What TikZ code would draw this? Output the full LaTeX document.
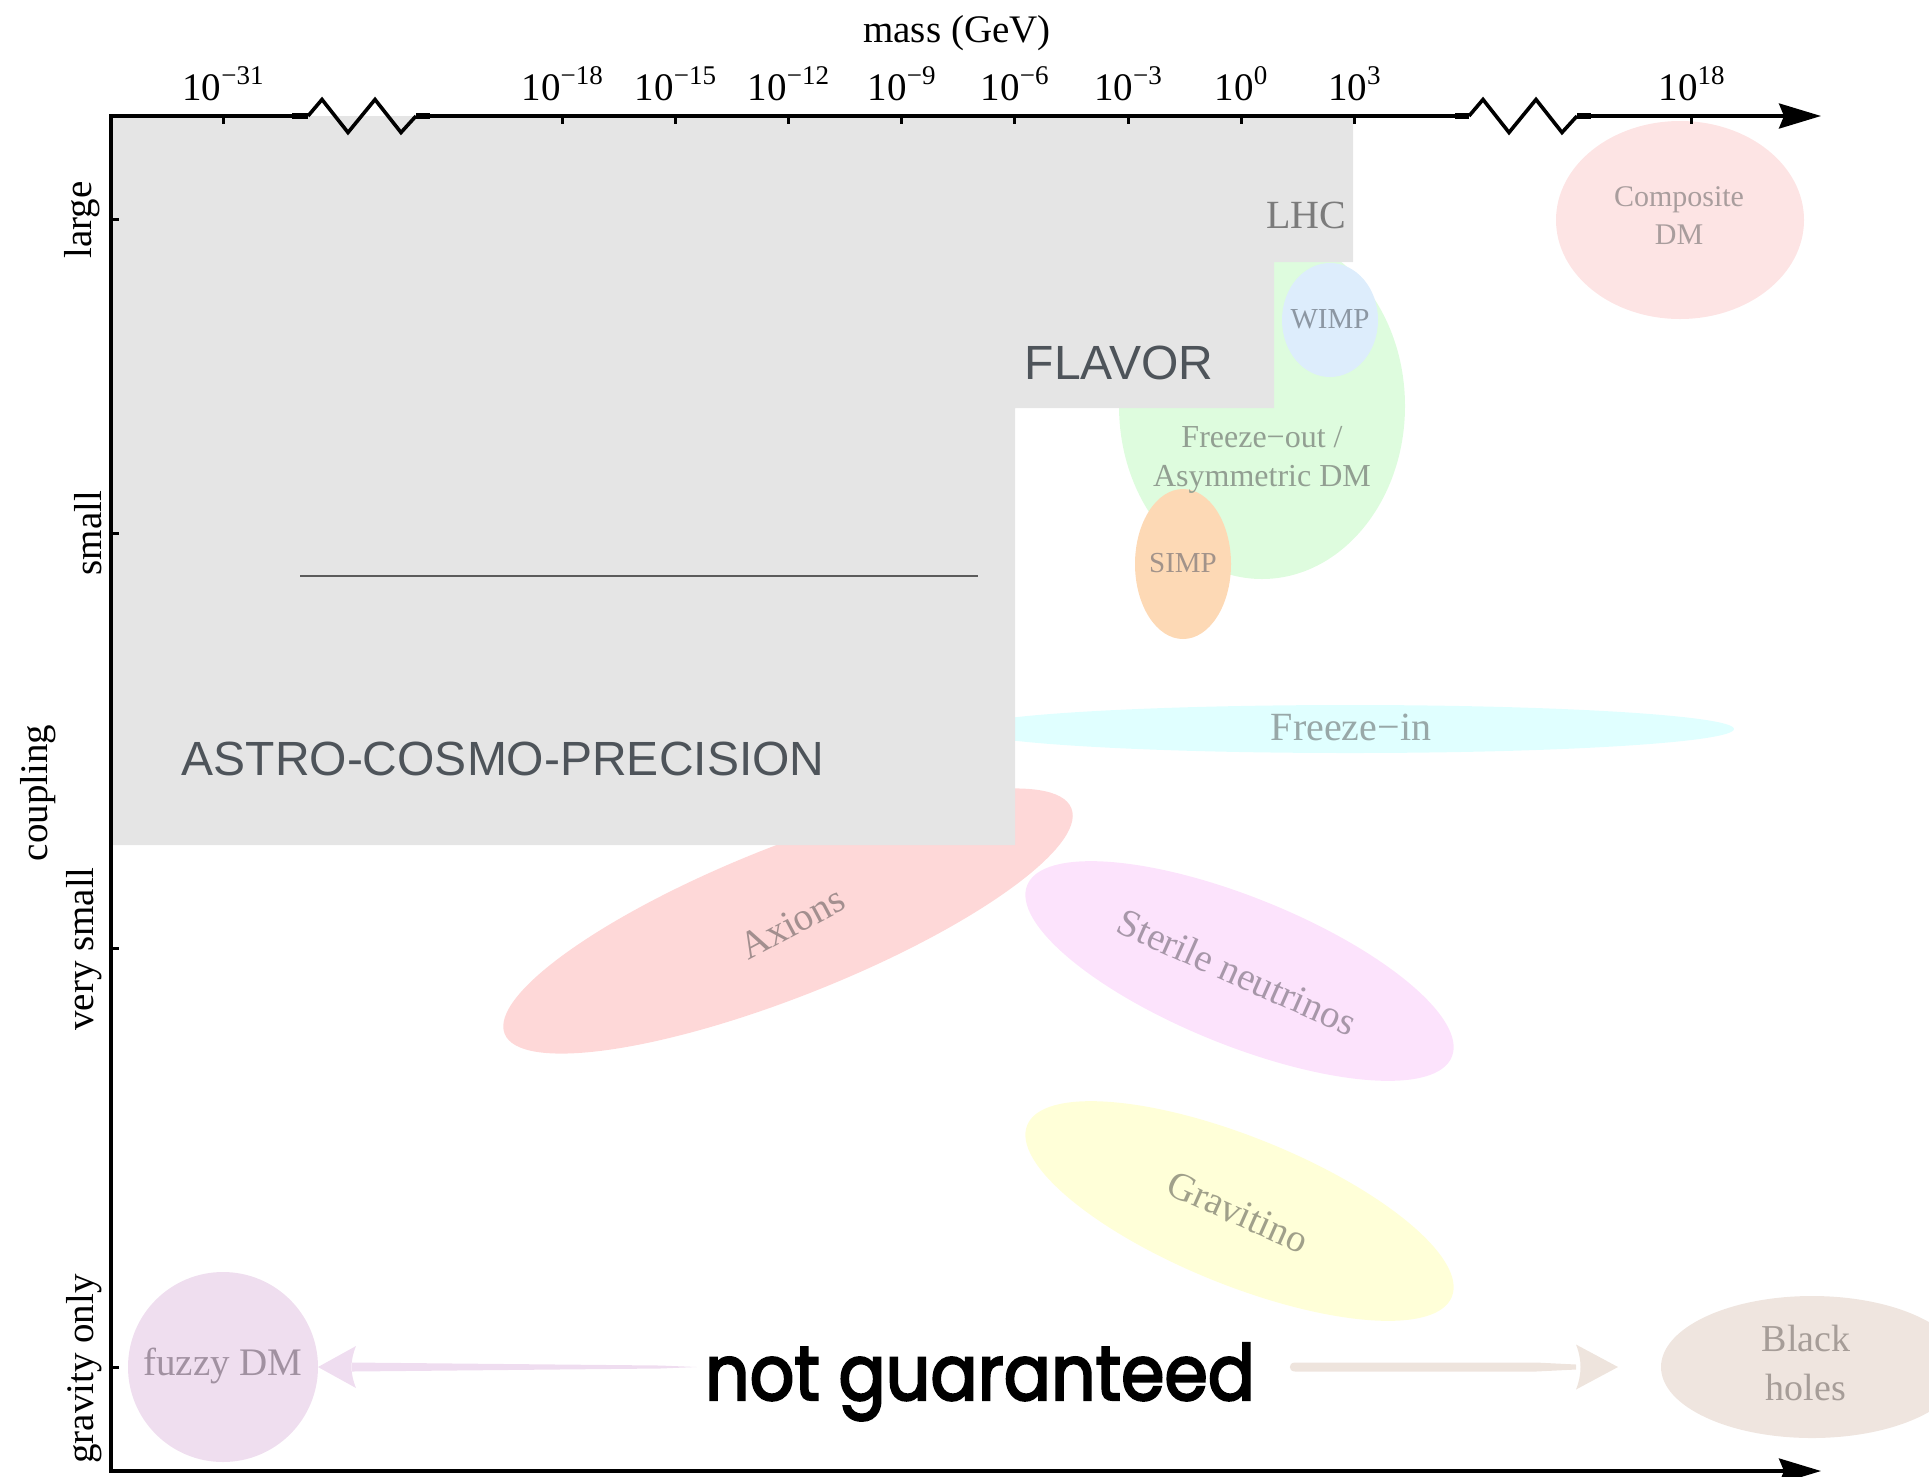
\documentclass[tikz,border=0pt]{standalone}
\usepackage{fontspec}
\setmainfont{Liberation Serif}
\newfontfamily\helv{Liberation Sans}
\newfontfamily\geo[FakeBold=3]{Poppins}
\usetikzlibrary{arrows.meta,shapes.geometric,calc}

\newcommand\fsz[1]{\fontsize{#1}{#1}\selectfont}
\newcommand\decade[1]{10\raisebox{16pt}{\fontsize{27}{27}\selectfont #1}}

% fills of the model regions
\definecolor{region}{HTML}{E5E5E5}
\definecolor{compfill}{HTML}{FDE4E4}
\definecolor{wimpfill}{HTML}{DDEDFC}
\definecolor{fofill}{HTML}{DEFCDE}
\definecolor{simpfill}{HTML}{FDD9B5}
\definecolor{fifill}{HTML}{E0FFFF}
\definecolor{axfill}{HTML}{FED8D8}
\definecolor{stfill}{HTML}{FCE3FC}
\definecolor{grfill}{HTML}{FFFFD8}
\definecolor{fzfill}{HTML}{EFDEEF}
\definecolor{bhfill}{HTML}{EFE5DF}
\definecolor{lavarrow}{HTML}{EFDDF0}
\definecolor{bharrow}{HTML}{EEE4DD}
% text colours
\definecolor{bigtxt}{HTML}{4E545A}
\definecolor{lhctxt}{HTML}{7B7B7B}
\definecolor{rulegray}{HTML}{5B5B5B}
\definecolor{comptxt}{HTML}{A99D9D}
\definecolor{wimptxt}{HTML}{8C97A3}
\definecolor{fotxt}{HTML}{929F92}
\definecolor{simptxt}{HTML}{A2938A}
\definecolor{fitxt}{HTML}{98A8A8}
\definecolor{axtxt}{HTML}{A38F8F}
\definecolor{sttxt}{HTML}{A797A9}
\definecolor{grtxt}{HTML}{A0A08A}
\definecolor{fztxt}{HTML}{A191A1}
\definecolor{bhtxt}{HTML}{A69D98}

\begin{document}
\begin{tikzpicture}[x=1pt,y=-1pt,
  bubble/.style={ellipse,inner sep=0pt,outer sep=0pt,draw=none},
  lbl/.style={inner sep=0pt,outer sep=0pt,align=center},
  axisline/.style={line width=3.6pt,line join=miter},
  axistip/.style={-{Stealth[length=42pt,width=25pt,inset=5pt]}},
  breakcap/.style={line width=6.5pt},
  tickmark/.style={line width=3pt},
  biglabel/.style={lbl,text=bigtxt,font=\helv\fsz{48}},
  scalelabel/.style={lbl,font=\fsz{39}},
]
\useasboundingbox (0,0) rectangle (1929,1476);

% model regions
\node[bubble,fill=compfill,minimum width=248pt,minimum height=198pt] (composite) at (1680,220) {};
\node[bubble,fill=fofill,minimum width=286pt,minimum height=346pt] (freezeout) at (1262,406) {};
\node[bubble,fill=wimpfill,minimum width=96pt,minimum height=114pt] (wimp) at (1330,320) {};
\node[bubble,fill=simpfill,minimum width=96pt,minimum height=150pt] (simp) at (1183,564) {};
\node[bubble,fill=fifill,minimum width=768pt,minimum height=48pt] (freezein) at (1350,729) {};
\node[bubble,fill=axfill,minimum width=610pt,minimum height=150pt,rotate=21.7] (axions) at (788,921) {};
\node[bubble,fill=stfill,minimum width=458pt,minimum height=148pt,rotate=-22] (sterile) at (1239.5,971) {};
\node[bubble,fill=grfill,minimum width=458pt,minimum height=148pt,rotate=-22] (gravitino) at (1239.5,1211) {};
\node[bubble,fill=fzfill,minimum width=190pt,minimum height=190pt] (fuzzy) at (223,1367) {};
\node[bubble,fill=bhfill,minimum width=302pt,minimum height=142pt] (bh) at (1812,1367) {};

% excluded region
\fill[region] (111,116) -- (1353,116) -- (1353,262) -- (1274,262) -- (1274,408)
  -- (1015,408) -- (1015,845) -- (111,845) -- cycle;
\draw[line width=1.5pt,rulegray] (300,576) -- (978,576);

\node[lbl,text=lhctxt,font=\fsz{40}] (lhc) at (1306,215) {LHC};
\node[biglabel] (flavor) at (1119,363) {FLAVOR};
\node[biglabel] (astro) at (503,759) {ASTRO-COSMO-PRECISION};

% region labels
\node[lbl,text=comptxt,font=\fontsize{30}{38}\selectfont] (comptext) at (1679,216) {Composite\\DM};
\node[lbl,text=wimptxt,font=\fsz{29}] (wimptext) at (1330,319) {WIMP};
\node[lbl,text=fotxt,font=\fontsize{32}{39}\selectfont] (fotext) at (1262,460) {Freeze−out /\\Asymmetric DM};
\node[lbl,text=simptxt,font=\fsz{29}] (simptext) at (1183,563) {SIMP};
\node[lbl,text=fitxt,font=\fsz{40}] (fitext) at (1351,727) {Freeze−in};
\node[lbl,text=axtxt,font=\fsz{39},rotate=28] (axtext) at (792,923) {Axions};
\node[lbl,text=sttxt,font=\fsz{39},rotate=-24] (sttext) at (1237,972) {Sterile neutrinos};
\node[lbl,text=grtxt,font=\fsz{39},rotate=-24] (grtext) at (1238,1212) {Gravitino};
\node[lbl,text=fztxt,font=\fsz{39}] (fztext) at (223,1366) {fuzzy DM};
\node[lbl,text=bhtxt,font=\fontsize{38}{49}\selectfont] (bhtext) at (1806,1363) {Black\\holes};

% not guaranteed, with arrows to both ends
\node[lbl,font=\geo\fsz{72},anchor=base] (ng) at (980,1400)
  {\scalebox{1}[1.1]{\resizebox{550pt}{!}{not guaranteed}}};
\coordinate (ltail) at (fuzzy.east -| ng.west);
\coordinate (rtail) at (bh.west -| ng.east);
\coordinate (rhead) at ($(bh.west)+(-85,0)$);

\begin{scope}[shift={(fuzzy.east)}]
  \fill[lavarrow] (0,0) -- (38,-21) .. controls (32,-6) and (32,6) .. (38,21) -- cycle;
\end{scope}
\fill[lavarrow] ($(fuzzy.east)+(34,-4.5)$) -- ($(ltail)+(-45,-1.5)$) -- ($(ltail)+(-8,0)$)
  -- ($(ltail)+(-45,1.5)$) -- ($(fuzzy.east)+(34,4.5)$) -- cycle;

\fill[bharrow] ($(rtail)+(40,-4.5)$) -- ($(rhead)+(-40,-4.5)$) -- ($(rhead)+(0,-2.5)$)
  -- ($(rhead)+(0,2.5)$) -- ($(rhead)+(-40,4.5)$) -- ($(rtail)+(40,4.5)$)
  .. controls ($(rtail)+(33,4.5)$) and ($(rtail)+(33,-4.5)$) .. ($(rtail)+(40,-4.5)$) -- cycle;
\begin{scope}[shift={(bh.west)}]
  \fill[bharrow] (-43,0) -- (-85,-22.5) .. controls (-79,-7) and (-79,7) .. (-85,22.5) -- cycle;
\end{scope}

% axes with breaks
\draw[axisline,axistip] (292,116) -- (111,116) -- (111,1471) -- (1821,1471);
\draw[breakcap] (292,116) -- (308,116);
\draw[axisline] (308,116) -- (322,99.5) -- (348,132.5) -- (375,99.5) -- (401,132.5) -- (416,116);
\draw[breakcap] (416,116) -- (430,116);
\draw[axisline] (430,116) -- (1455,116);
\draw[breakcap] (1455,116) -- (1469,116);
\draw[axisline] (1469,116) -- (1483,99.5) -- (1509,132.5) -- (1536,99.5) -- (1562,132.5) -- (1577,116);
\draw[breakcap] (1577,116) -- (1591,116);
\draw[axisline,axistip] (1591,116) -- (1821,116);

% mass scale
\foreach \x/\e/\n in {223/−31/a,562.2/−18/b,675.4/−15/c,788.5/−12/d,901.7/−9/e,
  1014.8/−6/f,1128/−3/g,1241.1/0/h,1354.3/3/i,1691.5/18/j} {
  \draw[tickmark] (\x,116) -- (\x,124);
  \node[scalelabel,anchor=base] (mass\n) at (\x,100) {\decade{\e}};
}
\node[scalelabel,anchor=base] (masstitle) at (957,42) {mass (GeV)};

% coupling scale
\foreach \y in {219,533,948,1367} \draw[tickmark] (111,\y) -- (119,\y);
\node[scalelabel,rotate=90,anchor=base] (clarge) at (91,220) {large};
\node[scalelabel,rotate=90,anchor=base] (csmall) at (101,533) {small};
\node[scalelabel,rotate=90,anchor=base] (cvsmall) at (93,949) {very small};
\node[scalelabel,rotate=90,anchor=base] (cgrav) at (93,1369) {gravity only};
\node[scalelabel,rotate=90,anchor=base] (ctitle) at (47,793) {coupling};
\end{tikzpicture}
\end{document}
